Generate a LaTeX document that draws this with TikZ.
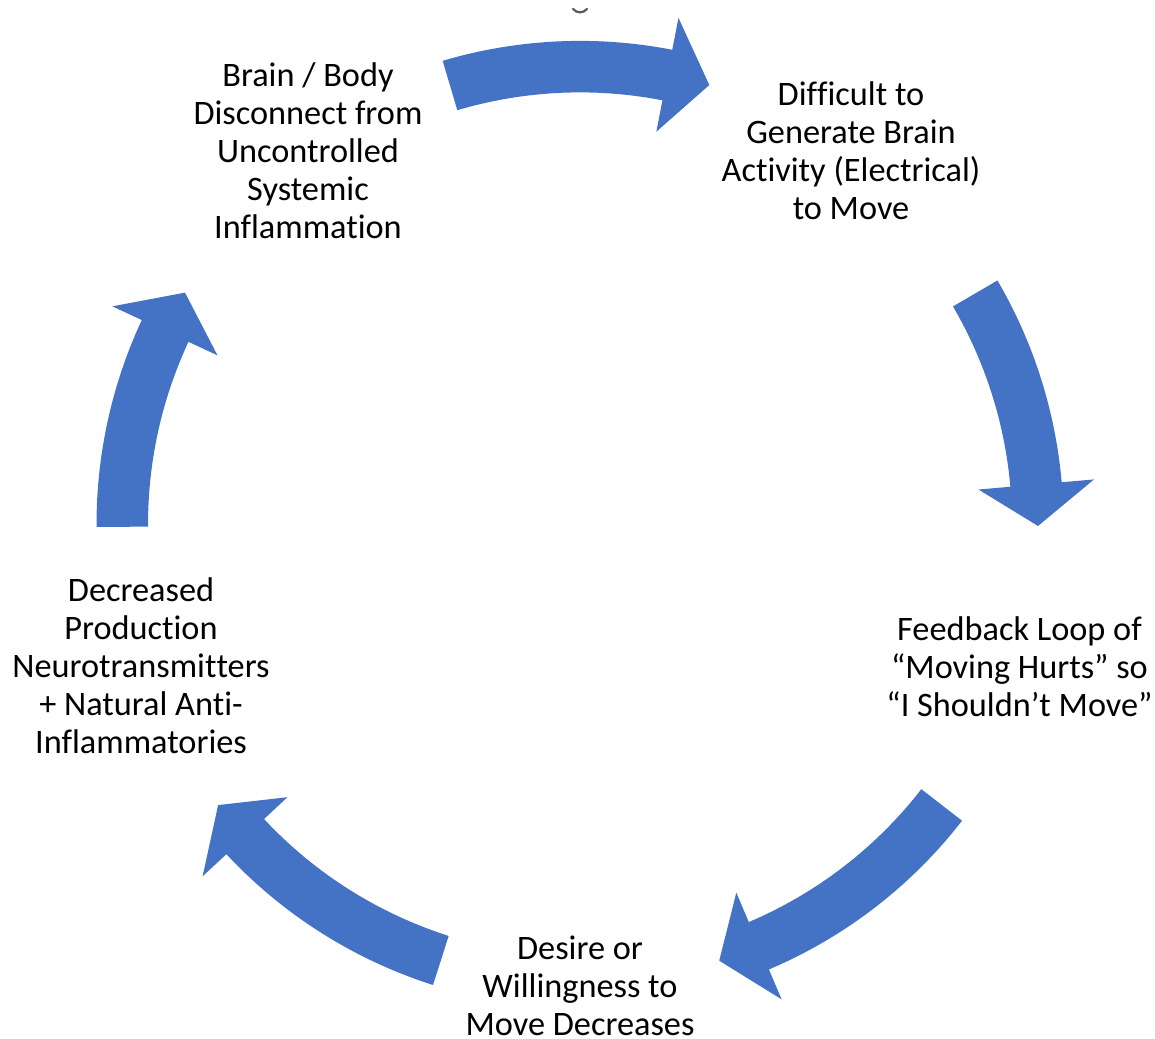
\documentclass[tikz,border=0pt]{standalone}
\usepackage{fontspec}
\setmainfont[Ligatures={NoCommon}]{Carlito}
\definecolor{cycblue}{HTML}{4472C4}
\newcommand{\nolig}{\kern0pt }
\tikzset{
  lbl/.style={align=center, inner sep=0pt, font=\fontsize{34.3}{38}\selectfont, text=black},
  arrowfill/.style={fill=cycblue, draw=none}
}
% #1 tail angle, #2 head base angle, #3 tip angle (clockwise arrows)
\newcommand{\cyclearrow}[3]{%
  \fill[arrowfill] (#1:483.5) arc[start angle=#1, end angle=#2, radius=483.5]
    -- (#2:516) -- (#3:458) -- (#2:400) -- (#2:432)
    arc[start angle=#2, end angle=#1, radius=432] -- cycle;}
\begin{document}
\begin{tikzpicture}[x=1pt, y=1pt]
\useasboundingbox (0,0) rectangle (1155,1038);
\coordinate (C) at (580,513.6);
\begin{scope}[shift={(C)}]
  \cyclearrow{106.5}{79}{73.6}
  \cyclearrow{30.3}{5}{-0.2}
  \cyclearrow{-37.8}{-67}{-72.3}
  \cyclearrow{-107.7}{-137}{-142.2}
  \cyclearrow{180.3}{155}{149.6}
\end{scope}
\draw[line width=2.2pt, black!65, line cap=round] (573,1029) .. controls (577,1024.5) and (583,1024.5) .. (587,1029);
\node[lbl] (n1) at (308,887) {Brain / Body\\Disconnect from\\Uncontrolled\\Systemic\\Inf\nolig lammation};
\node[lbl] (n2) at (851,887) {Dif\nolig f\nolig icult to\\Generate Brain\\Activity (Electrical)\\to Move};
\node[lbl] (n3) at (1019.5,371) {Feedback Loop of\\“Moving Hurts” so\\“I Shouldn’t Move”};
\node[lbl] (n4) at (580,52) {Desire or\\Willingness to\\Move Decreases};
\node[lbl] (n5) at (141,372) {Decreased\\Production\\Neurotransmit\nolig ters\\+ Natural Anti-\\Inf\nolig lammatories};
\end{tikzpicture}
\end{document}
